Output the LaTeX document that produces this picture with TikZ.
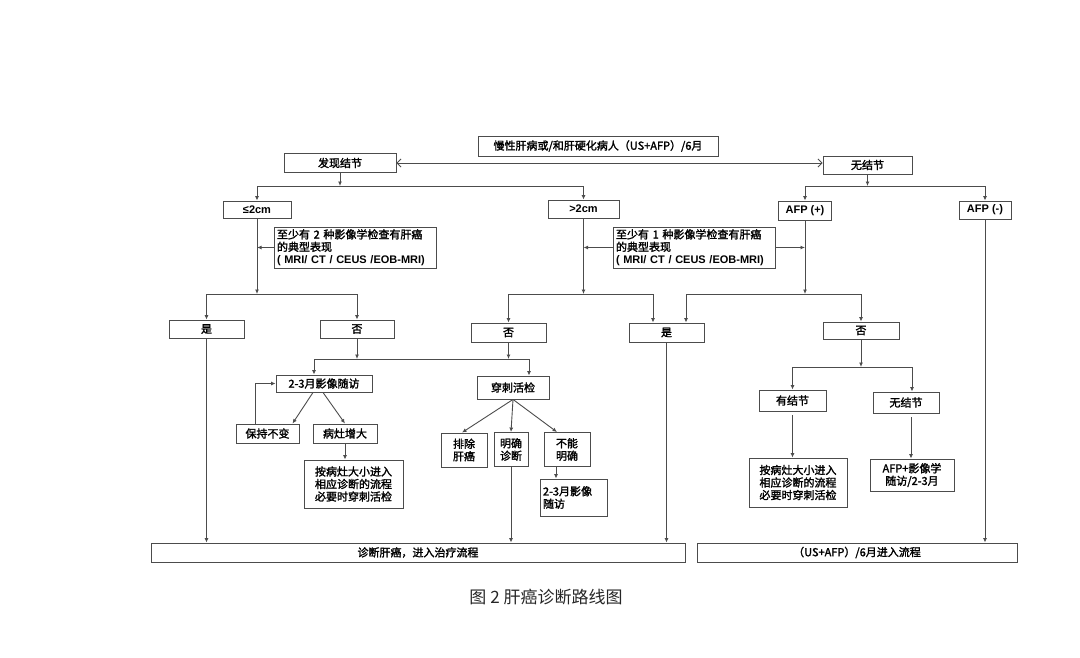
\documentclass[tikz,border=0pt]{standalone}
\usepackage{fontspec}
\setmainfont{Noto Sans CJK SC}[AutoFakeBold=1.8]
\newfontfamily\latfont{Liberation Sans Bold}
\usetikzlibrary{arrows.meta,positioning,calc}
\tikzset{
  box/.style={draw=black!70, line width=0.9pt, inner sep=1pt, align=center,
    font=\bfseries\fontsize{11}{12.5}\selectfont},
  sz/.style 2 args={minimum width=#1pt, minimum height=#2pt},
  note/.style={box, align=left, text width=#1pt, inner xsep=3pt},
  arr/.style={draw=black!70, line width=0.9pt, -{Latex[length=4.5pt,width=4pt]}},
  link/.style={draw=black!70, line width=0.9pt},
  barb/.style={draw=black!70, line width=0.9pt,
    {Straight Barb[length=4pt,width=8pt]}-{Straight Barb[length=4pt,width=8pt]}}
}

\begin{document}
\begin{tikzpicture}[x=1pt,y=-1pt]
\useasboundingbox (0,0) rectangle (1080,657);
% top row
\node[box, sz={240}{20}] (top) at (598,146) {慢性肝病或/和肝硬化病人（US+AFP）/6月};
\node[box, sz={112}{19}] (fxjj) at (340,163) {发现结节};
\node[box, sz={89}{18}] (wjj) at (867.5,165) {无结节};
% size and AFP boxes
\node[box, sz={68}{17}] (le2) at (257,209.5) {\latfont ≤2cm};
\node[box, sz={71}{18}] (gt2) at (583.5,209) {\latfont >2cm};
\node[box, sz={53}{19}] (afpp) at (805,210.5) {\latfont AFP (+)};
\node[box, sz={52}{18}] (afpm) at (985,210) {\latfont AFP (-)};
% imaging criteria
\node[note=156, minimum height=41pt] (crit1) at (355,247.5)
  {至少有 2 种影像学检查有肝癌\\的典型表现\\{\latfont ( MRI/ CT / CEUS /EOB-MRI)}};
\node[note=156, minimum height=41pt] (crit2) at (694,247.5)
  {至少有 1 种影像学检查有肝癌\\的典型表现\\{\latfont ( MRI/ CT / CEUS /EOB-MRI)}};
% yes / no
\node[box, sz={75}{18}] (yes1) at (206.5,329) {是};
\node[box, sz={74}{18}] (no1) at (357,329) {否};
\node[box, sz={75}{19}] (no2) at (508.5,332.5) {否};
\node[box, sz={75}{19}] (yes2) at (666.5,332.5) {是};
\node[box, sz={76}{17}] (no3) at (861,330.5) {否};
% follow up and biopsy
\node[box, sz={96}{17}] (fu1) at (324,383.5) {2-3月影像随访};
\node[box, sz={72}{23}] (bx) at (513,387.5) {穿刺活检};
\node[box, sz={63}{19}] (keep) at (267.5,433.5) {保持不变};
\node[box, sz={64}{19}] (grow) at (345,433.5) {病灶增大};
\node[box, sz={99}{48}] (size1) at (353.5,484) {按病灶大小进入\\相应诊断的流程\\必要时穿刺活检};
\node[box, sz={46}{34}] (excl) at (464,450) {排除\\肝癌};
\node[box, sz={34}{34}] (conf) at (511,449.5) {明确\\诊断};
\node[box, sz={46}{34}] (unc) at (567,449.5) {不能\\明确};
\node[note=61, minimum height=37pt] (fu2) at (573.5,497.5) {2-3月影像\\随访};
\node[box, sz={67}{21}] (hasn) at (792.5,400.5) {有结节};
\node[box, sz={66}{21}] (non) at (906,402.5) {无结节};
\node[box, sz={98}{49}] (size2) at (798,482.5) {按病灶大小进入\\相应诊断的流程\\必要时穿刺活检};
\node[box, sz={84}{32}] (afpimg) at (912,475) {AFP+影像学\\随访/2-3月};
% bottom boxes and caption
\node[box, sz={534}{19}] (diag) at (418,552.5) {诊断肝癌，进入治疗流程};
\node[box, sz={320}{19}] (usafp) at (857,552.5) {（US+AFP）/6月进入流程};
\node[font=\fontsize{17}{20}\selectfont, text=black!85] (cap) at (546,597) {图 2 肝癌诊断路线图};
% junctions
\coordinate (j1) at (340,186);
\coordinate (j2) at (257,294);
\coordinate (j3) at (583.5,294);
\coordinate (j4) at (805,294);
\coordinate (j5) at (867.5,186);
\coordinate (j6) at (357,359);
\coordinate (j7) at (508.5,359);
\coordinate (j8) at (861,367);
% connectors
\draw[barb] (fxjj.east) -- (fxjj.east -| wjj.west);
\draw[arr] (fxjj.south) -- (j1);
\draw[arr] (j1) -| (le2.north);
\draw[arr] (j1) -| (gt2.north);
\draw[arr] (wjj.south) -- (j5);
\draw[arr] (j5) -| (afpp.north);
\draw[arr] (j5) -| (afpm.north);
\draw[arr] (le2.south) -- (j2);
\draw[arr] (j2) -| (yes1.north);
\draw[arr] (j2) -| (no1.north);
\draw[arr] (crit1.west) -- (crit1.west -| le2.south);
\draw[arr] (gt2.south) -- (j3);
\draw[arr] (j3) -| (no2.north);
\draw[arr] (j3) -| ([xshift=-13.5pt]yes2.north);
\draw[arr] (crit2.west) -- (crit2.west -| gt2.south);
\draw[arr] (crit2.east) -- (crit2.east -| afpp.south);
\draw[arr] (afpp.south) -- (j4);
\draw[arr] (j4) -| ([xshift=19.5pt]yes2.north);
\draw[arr] (j4) -| (no3.north);
\draw[arr] (afpm.south) -- (afpm.south |- usafp.north);
\draw[arr] (yes1.south) -- (yes1.south |- diag.north);
\draw[arr] (no1.south) -- (j6);
\draw[arr] (no2.south) -- (j7);
\draw[link] (j6) -- (j7);
\draw[arr] (j6) -| ([xshift=-10pt]fu1.north);
\draw[arr] (j7) -| ([xshift=16pt]bx.north);
\draw[arr] ([xshift=-11pt]fu1.south) -- ([xshift=25pt]keep.north);
\draw[arr] ([xshift=-1pt]fu1.south) -- (grow.north);
\draw[arr] ([xshift=-12pt]keep.north) |- (fu1.west);
\draw[arr] (grow.south) -- (grow.south |- size1.north);
\draw[arr] (bx.south) -- ([xshift=-2pt]excl.north);
\draw[arr] (bx.south) -- (conf.north);
\draw[arr] (bx.south) -- ([xshift=-10pt]unc.north);
\draw[arr] ([xshift=-11pt]unc.south) -- ([xshift=-11pt]unc.south |- fu2.north);
\draw[arr] (conf.south) -- (conf.south |- diag.north);
\draw[arr] (yes2.south) -- (yes2.south |- diag.north);
\draw[arr] (no3.south) -- (j8);
\draw[arr] (j8) -| (hasn.north);
\draw[arr] (j8) -| ([xshift=6pt]non.north);
\draw[arr, shorten <=4pt] (hasn.south) -- (hasn.south |- size2.north);
\draw[arr, shorten <=4pt] ([xshift=5pt]non.south) -- ([xshift=5pt]non.south |- afpimg.north);
\end{tikzpicture}
\end{document}
